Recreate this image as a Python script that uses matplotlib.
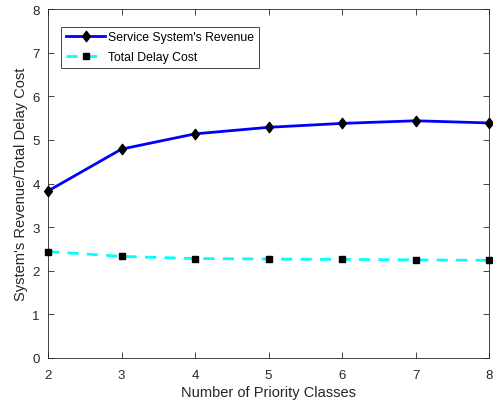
import matplotlib
matplotlib.use("Agg")
import matplotlib.pyplot as plt
from matplotlib.path import Path

plt.rcParams['font.family'] = ['Liberation Sans', 'DejaVu Sans']

classes = [2, 3, 4, 5, 6, 7, 8]
revenue = [3.83, 4.79, 5.14, 5.29, 5.38, 5.44, 5.39]
delay_cost = [2.44, 2.33, 2.28, 2.27, 2.26, 2.25, 2.24]

# diamond slightly taller than wide
diamond = Path([(0, 1), (0.75, 0), (0, -1), (-0.75, 0), (0, 1)],
               [Path.MOVETO, Path.LINETO, Path.LINETO, Path.LINETO, Path.CLOSEPOLY])

fig = plt.figure(figsize=(4.93, 4.06), dpi=100)
ax = fig.add_axes([0.0974, 0.1158, 0.8946, 0.8592])

ax.plot(classes, revenue, color='#0000ff', lw=2, marker=diamond, ms=7.5,
        mfc='black', mec='black', label="Service System's Revenue", clip_on=False, zorder=3)
ax.plot(classes, delay_cost, color='cyan', lw=2, ls=(0, (4, 3)), marker='s', ms=4.8,
        mfc='black', mec='black', label='Total Delay Cost', clip_on=False, zorder=3)

ax.set_xlim(2, 8)
ax.set_ylim(0, 8)
ax.set_xticks(classes)
ax.set_yticks(range(0, 9))
ax.tick_params(direction='in', length=4, width=0.6, colors='#262626', labelsize=9.5,
               top=True, right=True)
ax.tick_params(axis='x', pad=8)
ax.tick_params(axis='y', pad=6)
for s in ax.spines.values():
    s.set_color('#262626')
    s.set_linewidth(0.6)
ax.set_xlabel('Number of Priority Classes', fontsize=10.5, color='#262626', labelpad=3)
ax.set_ylabel("System's Revenue/Total Delay Cost", fontsize=10.5, color='#262626', labelpad=3)

leg = ax.legend(loc='upper left', bbox_to_anchor=(0.030, 0.95), fontsize=8.8,
                frameon=True, fancybox=False, edgecolor='#262626', framealpha=1,
                handlelength=3.2, borderpad=0.4, labelspacing=0.65, handletextpad=0.25,
                borderaxespad=0)
leg.get_frame().set_linewidth(0.6)

fig.savefig('out.png', dpi=100)
